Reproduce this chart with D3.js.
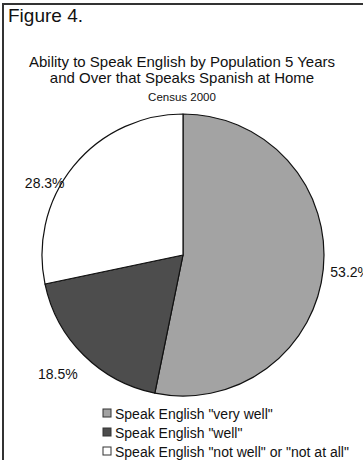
<!DOCTYPE html>
<html>
<head>
<meta charset="utf-8">
<script src="https://cdn.jsdelivr.net/npm/d3@7"></script>
<style>
  body { margin: 0; background: #fff; }
  svg { display: block; font-family: "Liberation Sans", Arial, sans-serif; }
</style>
</head>
<body>
<div id="chart"></div>
<script>
const categories = ['Speak English "very well"', 'Speak English "well"', 'Speak English "not well" or "not at all"'];
const values = [53.2, 18.5, 28.3];
const labels = ['53.2%', '18.5%', '28.3%'];
const colors = ['#a3a3a3', '#4d4d4d', '#ffffff'];

const width = 363, height = 460;
const cx = 183, cy = 255, radius = 141;
// per-slice label placement: angle nudge (deg) and distance from center
const labelPos = [{ da: 0, r: 168 }, { da: 1.5, r: 173 }, { da: -11.5, r: 156 }];

const svg = d3.select('#chart')
    .append('svg')
    .attr('width', width)
    .attr('height', height);

// frame (right and bottom edges fall outside the picture, as in the original)
svg.append('rect')
    .attr('x', 3).attr('y', 4)
    .attr('width', 380).attr('height', 480)
    .attr('fill', 'none')
    .attr('stroke', '#333')
    .attr('stroke-width', 2);

svg.append('text')
    .attr('x', 8).attr('y', 22)
    .attr('font-size', 19)
    .attr('fill', '#111')
    .text('Figure 4.');

const title = svg.append('text')
    .attr('text-anchor', 'middle')
    .attr('font-size', 15)
    .attr('fill', '#111');
title.append('tspan').attr('x', 182).attr('y', 67).text('Ability to Speak English by Population 5 Years');
title.append('tspan').attr('x', 182).attr('y', 83).text('and Over that Speaks Spanish at Home');

svg.append('text')
    .attr('x', 182).attr('y', 101)
    .attr('text-anchor', 'middle')
    .attr('font-size', 11.5)
    .attr('fill', '#111')
    .text('Census 2000');

const pie = d3.pie().sort(null).value(d => d);
const arcs = pie(values);
const arc = d3.arc().innerRadius(0).outerRadius(radius);

const g = svg.append('g').attr('transform', `translate(${cx},${cy})`);

g.selectAll('path')
    .data(arcs)
    .join('path')
    .attr('d', arc)
    .attr('fill', (d, i) => colors[i])
    .attr('stroke', '#111')
    .attr('stroke-width', 1.2)
    .attr('stroke-linejoin', 'round');

g.selectAll('text.lbl')
    .data(arcs)
    .join('text')
    .attr('class', 'lbl')
    .attr('text-anchor', 'middle')
    .attr('dominant-baseline', 'central')
    .attr('font-size', 14)
    .attr('fill', '#111')
    .attr('transform', (d, i) => {
        const a = (d.startAngle + d.endAngle) / 2 + labelPos[i].da * Math.PI / 180;
        const r = labelPos[i].r;
        return `translate(${r * Math.sin(a)},${-r * Math.cos(a)})`;
    })
    .text((d, i) => labels[i]);

// legend
const legend = svg.append('g').attr('transform', 'translate(103,413)');
const rows = legend.selectAll('g')
    .data(categories)
    .join('g')
    .attr('transform', (d, i) => `translate(0,${i * 19})`);
rows.append('rect')
    .attr('x', 0).attr('y', -4)
    .attr('width', 8).attr('height', 8)
    .attr('fill', (d, i) => colors[i])
    .attr('stroke', '#333')
    .attr('stroke-width', 1);
rows.append('text')
    .attr('x', 12).attr('y', 0.5)
    .attr('dominant-baseline', 'central')
    .attr('font-size', 14)
    .attr('fill', '#111')
    .text(d => d);
</script>
</body>
</html>
